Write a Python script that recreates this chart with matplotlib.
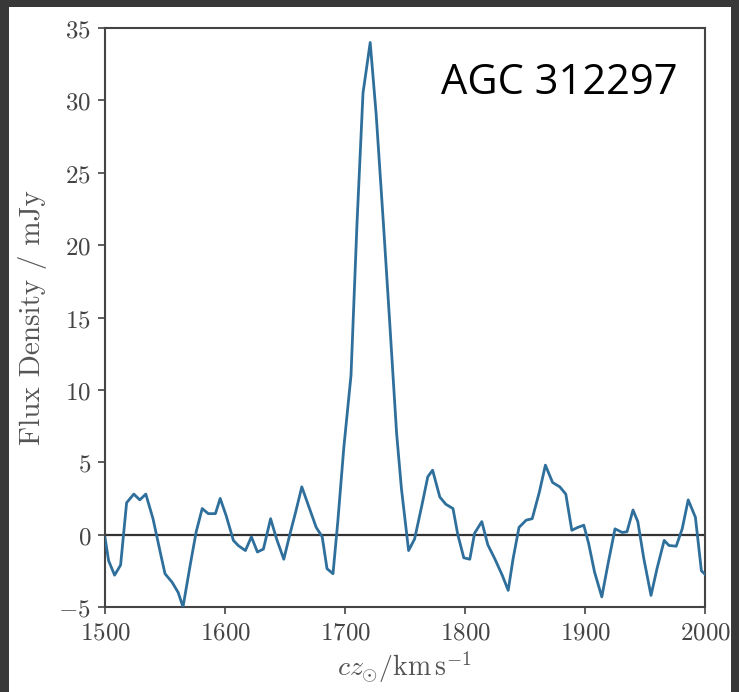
import matplotlib
matplotlib.use("Agg")
import matplotlib.pyplot as plt
from matplotlib.patches import Rectangle
from matplotlib.ticker import FuncFormatter

plt.rcParams['mathtext.fontset'] = 'cm'

# HI spectrum of AGC 312297
velocity = [1500, 1503, 1508, 1513, 1518, 1524, 1529, 1534, 1540, 1546,
            1550, 1556, 1561, 1565, 1571, 1576, 1581, 1586, 1592, 1596,
            1601, 1607, 1611, 1617, 1622, 1627, 1632, 1638, 1643, 1649,
            1654, 1659, 1664, 1670, 1676, 1681, 1685, 1690, 1694, 1699,
            1705, 1710, 1715, 1721, 1726, 1732, 1737, 1743, 1747, 1753,
            1758, 1764, 1769, 1773, 1779, 1784, 1790, 1794, 1799, 1804,
            1808, 1814, 1819, 1825, 1831, 1836, 1840, 1845, 1851, 1856,
            1862, 1867, 1873, 1879, 1884, 1889, 1894, 1899, 1903, 1908,
            1914, 1919, 1925, 1931, 1935, 1940, 1944, 1949, 1955, 1960,
            1966, 1970, 1976, 1981, 1986, 1992, 1997, 2002]
flux = [-0.2, -1.8, -2.8, -2.1, 2.2, 2.8, 2.4, 2.8, 1.1, -1.2,
        -2.7, -3.3, -4.0, -5.0, -2.1, 0.2, 1.8, 1.45, 1.45, 2.5,
        1.3, -0.4, -0.75, -1.1, -0.15, -1.2, -1.0, 1.1, -0.3, -1.7,
        0.0, 1.6, 3.3, 1.9, 0.5, -0.15, -2.35, -2.7, 0.9, 6.0,
        11.0, 21.5, 30.5, 34.0, 29.0, 21.5, 15.0, 7.0, 3.2, -1.1,
        -0.3, 2.0, 4.0, 4.45, 2.6, 2.1, 1.8, 0.0, -1.6, -1.7,
        0.1, 0.9, -0.7, -1.7, -2.8, -3.85, -1.7, 0.5, 1.0, 1.1,
        2.95, 4.8, 3.6, 3.3, 2.8, 0.3, 0.5, 0.65, -0.6, -2.6,
        -4.3, -2.1, 0.4, 0.15, 0.2, 1.7, 0.9, -1.65, -4.2, -2.35,
        -0.4, -0.75, -0.8, 0.4, 2.4, 1.2, -2.5, -2.9]

xticks = [1500, 1600, 1700, 1800, 1900, 2000]
yticks = [-5, 0, 5, 10, 15, 20, 25, 30, 35]
galaxy = 'AGC 312297'

fig = plt.figure(figsize=(7.39, 6.92), dpi=100, facecolor='#383838')
# white slide panel behind the plot
fig.patches.append(Rectangle((9 / 739, 0), 722 / 739, 1 - 7 / 692,
                             transform=fig.transFigure, facecolor='white',
                             edgecolor='none', zorder=-10))

ax = fig.add_axes([105 / 739, 1 - 607 / 692, 600 / 739, 579 / 692])
ax.set_facecolor('none')
ax.plot(velocity, flux, color='#2f6f9c', lw=2.0, zorder=3)
ax.axhline(0, color='#333333', lw=1.6, zorder=2)

ax.set_xlim(1500, 2000)
ax.set_ylim(-5, 35)
ax.set_xticks(xticks)
ax.set_yticks(yticks)
fmt = FuncFormatter(lambda v, p: r'$%d$' % v)
ax.xaxis.set_major_formatter(fmt)
ax.yaxis.set_major_formatter(fmt)
ax.tick_params(labelsize=18, colors='#444444', length=5, width=1.2, pad=5)

for s in ax.spines.values():
    s.set_color('#444444')
    s.set_linewidth(1.5)

ax.set_ylabel('Flux Density / mJy', family='cmr10', fontsize=21,
              color='#555555', labelpad=8)
ax.set_xlabel(r'$cz_{\odot}/\mathrm{km\,s^{-1}}$', fontsize=20,
              color='#555555', labelpad=3)

ax.text(0.56, 0.905, galaxy, transform=ax.transAxes, family='Open Sans',
        fontsize=30, color='black', ha='left', va='center')

fig.savefig('out.png', dpi=100, facecolor=fig.get_facecolor())
